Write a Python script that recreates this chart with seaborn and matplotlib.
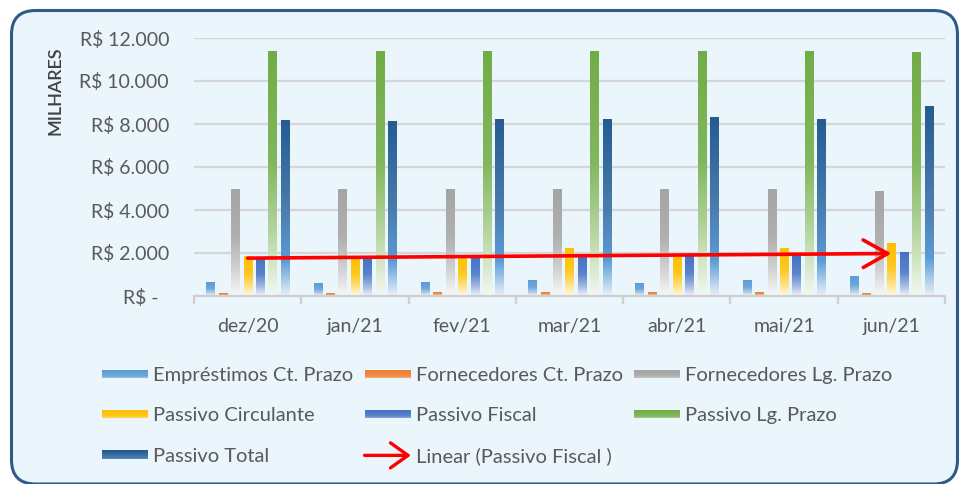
import numpy as np
import pandas as pd
import matplotlib
matplotlib.use("Agg")
import matplotlib.pyplot as plt
import seaborn as sns
from matplotlib.colors import LinearSegmentedColormap, to_rgb
from matplotlib.patches import FancyBboxPatch, Rectangle, FancyArrowPatch
from matplotlib.legend_handler import HandlerBase
from matplotlib.ticker import FixedLocator

# ---------------- data ----------------
months = ["dez/20", "jan/21", "fev/21", "mar/21", "abr/21", "mai/21", "jun/21"]
series = ["Empréstimos Ct. Prazo", "Fornecedores Ct. Prazo", "Fornecedores Lg. Prazo",
          "Passivo Circulante", "Passivo Fiscal", "Passivo Lg. Prazo", "Passivo Total"]
emprestimos_ct = [650, 600, 650, 700, 600, 700, 900]
fornecedores_ct = [100, 100, 150, 150, 150, 150, 100]
fornecedores_lg = [4950, 4950, 4950, 4950, 4950, 4950, 4880]
passivo_circulante = [1830, 1790, 1900, 2220, 1900, 2220, 2420]
passivo_fiscal = [1770, 1780, 1860, 1860, 1900, 1900, 2010]
passivo_lg = [11370, 11370, 11380, 11380, 11380, 11380, 11310]
passivo_total = [8150, 8100, 8200, 8200, 8300, 8200, 8800]
trend_label = "Linear (Passivo Fiscal )"
y_ticks = [0, 2000, 4000, 6000, 8000, 10000, 12000]
y_ticklabels = ["R$ -  ", "R$ 2.000", "R$ 4.000", "R$ 6.000", "R$ 8.000", "R$ 10.000", "R$ 12.000"]
y_title = "MILHARES"

values = [emprestimos_ct, fornecedores_ct, fornecedores_lg, passivo_circulante,
          passivo_fiscal, passivo_lg, passivo_total]
df = pd.DataFrame([(m, s, v[i]) for s, v in zip(series, values) for i, m in enumerate(months)],
                  columns=["Mês", "Série", "Valor"])

# ---------------- style ----------------
base_colors = ["#5B9BD5", "#ED7D31", "#A5A5A5", "#FFC000", "#4472C4", "#70AD47", "#245C91"]

def blend(c, t):
    c = np.array(to_rgb(c))
    return tuple(1 - t + t * c)

def make_cmap(c):
    return LinearSegmentedColormap.from_list(
        "g", [(0.0, blend(c, 0.08)), (0.25, blend(c, 0.5)), (0.55, blend(c, 0.88)), (1.0, blend(c, 1.0))])

cmaps = [make_cmap(c) for c in base_colors[:-1]]
cmaps.append(LinearSegmentedColormap.from_list(
    "tot", [(0.0, "#E8F1FA"), (0.2, "#5B9BD5"), (0.5, "#4A7CAD"), (1.0, "#245C91")]))

TXT = "#595959"
W, H, DPI = 961, 484, 100
fig = plt.figure(figsize=(W / DPI, H / DPI), dpi=DPI)
fig.patch.set_facecolor("white")
plt.rcParams["font.family"] = ["Lato", "DejaVu Sans"]

# rounded frame
frame = FancyBboxPatch((0.115, 0.0), 9.46, 4.735,
                       boxstyle="round,pad=0,rounding_size=0.24",
                       transform=fig.dpi_scale_trans, facecolor="#EAF5FC",
                       edgecolor="#2E5B8A", linewidth=2.2, zorder=-10)
fig.patches.append(frame)

ax = fig.add_axes([194 / W, 1 - 296 / H, (945 - 194) / W, (296 - 38) / H])
ax.set_facecolor("none")

sns.barplot(data=df, x="Mês", y="Valor", hue="Série", order=months, hue_order=series,
            width=0.81, gap=0.34, errorbar=None, legend=False, ax=ax)

grad = np.linspace(0, 1, 256).reshape(-1, 1)
for i, cont in enumerate(ax.containers):
    for r in cont.patches:
        x0, w, h = r.get_x(), r.get_width(), r.get_height()
        r.set_visible(False)
        ax.imshow(grad, extent=[x0, x0 + w, 0, h], origin="lower", aspect="auto",
                  cmap=cmaps[i], vmin=0, vmax=1, zorder=2, interpolation="bilinear")

# linear trend of Passivo Fiscal
xs = np.arange(len(months))
slope, icpt = np.polyfit(xs, passivo_fiscal, 1)
ax.annotate("", xy=(xs[-1], slope * xs[-1] + icpt), xytext=(xs[0], icpt),
            arrowprops=dict(arrowstyle="->,head_length=0.8,head_width=0.45",
                            color="#FF0000", lw=2.6, mutation_scale=22,
                            shrinkA=0, shrinkB=0), zorder=5)

ax.set_xlim(-0.5, len(months) - 0.5)
ax.set_ylim(0, 12000)
ax.set_yticks(y_ticks)
ax.set_yticklabels(y_ticklabels)
ax.grid(axis="y", color="#D6D6D6", lw=1.6, zorder=0)
ax.set_axisbelow(True)
for s in ["left", "top", "right"]:
    ax.spines[s].set_visible(False)
ax.spines["bottom"].set_color("#CFCFCF")
ax.spines["bottom"].set_linewidth(1.6)
ax.set_xlabel("")
ax.set_ylabel("")
ax.tick_params(axis="y", length=0, pad=18, labelsize=14, labelcolor=TXT)
ax.tick_params(axis="x", which="major", length=0, pad=16, labelsize=14, labelcolor=TXT)
ax.xaxis.set_minor_locator(FixedLocator(np.arange(-0.5, len(months), 1.0)))
ax.tick_params(axis="x", which="minor", length=6, width=1.6, color="#CFCFCF", direction="out")

fig.text(55 / W, 1 - 91 / H, y_title, rotation=90, ha="center", va="center",
         fontsize=13, fontweight="semibold", color="#404040")

# ---------------- legend ----------------
class GradProxy:
    def __init__(self, cmap):
        self.cmap = cmap

class HandlerGrad(HandlerBase):
    def create_artists(self, legend, orig, xdescent, ydescent, width, height, fontsize, trans):
        n = 8
        hh = 8 * 0.72
        y0 = -ydescent + (height - hh) / 2
        arts = []
        for k in range(n):
            t = 0.4 + 0.6 * k / (n - 1)
            arts.append(Rectangle((-xdescent, y0 + k * hh / n), width, hh / n + 0.05,
                                  facecolor=orig.cmap(t), edgecolor="none", transform=trans))
        return arts

class ArrowProxy:
    pass

class HandlerArrow(HandlerBase):
    def create_artists(self, legend, orig, xdescent, ydescent, width, height, fontsize, trans):
        ym = -ydescent + height / 2
        a = FancyArrowPatch((-xdescent, ym), (-xdescent + width, ym),
                            arrowstyle="->,head_length=0.7,head_width=0.5",
                            mutation_scale=18, color="#FF0000", lw=2.4,
                            shrinkA=0, shrinkB=0, transform=trans)
        return [a]

proxies = [GradProxy(c) for c in cmaps]
arrow = ArrowProxy()
order = [0, 3, 6, 1, 4, "t", 2, 5]
handles, labels = [], []
for o in order:
    if o == "t":
        handles.append(arrow); labels.append(trend_label)
    else:
        handles.append(proxies[o]); labels.append(series[o])

hmap = {GradProxy: HandlerGrad(), ArrowProxy: HandlerArrow()}
leg = fig.legend(handles, labels, handler_map=hmap, ncol=3, loc="upper left",
                 bbox_to_anchor=(102 / W, 1 - 367 / H), frameon=False,
                 fontsize=14.5, labelcolor=TXT, borderpad=0, borderaxespad=0,
                 handlelength=2.3, handletextpad=0.25, labelspacing=1.15,
                 columnspacing=0.55)

fig.savefig("out.png", dpi=DPI, facecolor="white")
